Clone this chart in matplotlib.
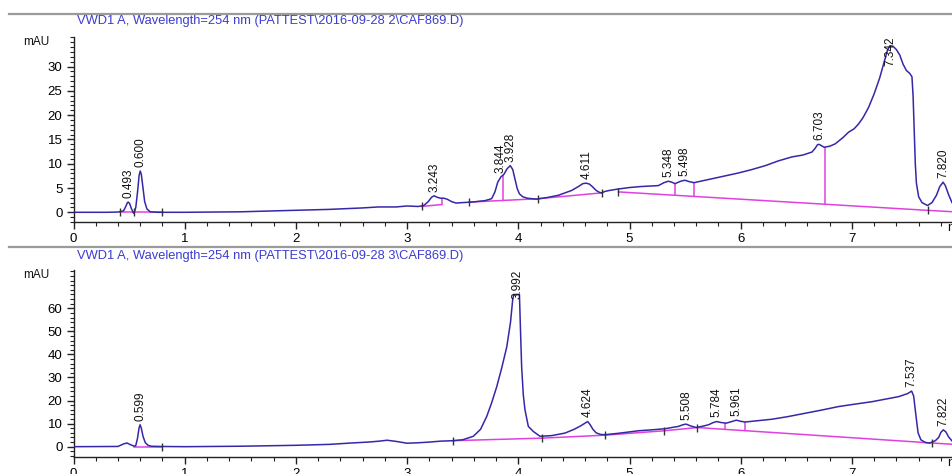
import numpy as np
import matplotlib
matplotlib.use("Agg")
import matplotlib.pyplot as plt
from matplotlib.lines import Line2D
from matplotlib.ticker import FixedLocator, MultipleLocator

plt.rcParams['font.family'] = ['Liberation Sans', 'DejaVu Sans']

TRACE = '#3428a8'
BASE = '#e040e0'
TITLE = '#3c3cd0'

# ---------------- run 2 ----------------
top_title = "VWD1 A, Wavelength=254 nm (PATTEST\\2016-09-28 2\\CAF869.D)"
top_t = [0.00, 0.30, 0.40, 0.45, 0.47, 0.485, 0.493, 0.505, 0.52, 0.54, 0.55, 0.56, 0.575,
         0.59, 0.600, 0.61, 0.625, 0.64, 0.66, 0.69, 0.75, 1.00, 1.50, 2.00, 2.30, 2.60, 2.74,
         2.90, 3.00, 3.10, 3.15, 3.19, 3.22, 3.243, 3.27, 3.30, 3.33, 3.36, 3.40, 3.44, 3.50,
         3.58, 3.70, 3.76, 3.79, 3.815, 3.844, 3.87, 3.90, 3.928, 3.95, 3.97, 3.99, 4.01, 4.04,
         4.08, 4.16, 4.25, 4.36, 4.48, 4.54, 4.58, 4.611, 4.64, 4.67, 4.70, 4.73, 4.75, 4.78,
         4.82, 4.90, 5.00, 5.10, 5.26, 5.31, 5.348, 5.38, 5.41, 5.46, 5.498, 5.54, 5.58, 5.66,
         5.74, 5.86, 5.98, 6.10, 6.22, 6.34, 6.46, 6.56, 6.64, 6.67, 6.69, 6.703, 6.72, 6.75,
         6.80, 6.85, 6.92, 6.97, 7.02, 7.06, 7.10, 7.15, 7.20, 7.25, 7.29, 7.32, 7.342, 7.37,
         7.40, 7.43, 7.46, 7.49, 7.52, 7.54, 7.55, 7.56, 7.57, 7.58, 7.60, 7.63, 7.68, 7.72,
         7.76, 7.79, 7.820, 7.84, 7.87, 7.90, 7.92]
top_v = [0.0, 0.0, 0.05, 0.3, 1.2, 2.0, 2.1, 1.8, 0.8, -0.2, 0.2, 1.0, 4.0,
         7.6, 8.5, 7.8, 5.0, 2.2, 0.7, 0.1, 0.0, 0.0, 0.1, 0.4, 0.6, 0.9, 1.1,
         1.1, 1.3, 1.2, 1.4, 2.2, 3.1, 3.4, 3.1, 2.9, 2.9, 2.7, 2.2, 1.9, 2.0,
         2.1, 2.4, 2.8, 4.2, 6.2, 7.3, 7.8, 9.0, 9.6, 8.8, 6.8, 4.9, 3.8, 3.2,
         2.9, 2.7, 3.0, 3.5, 4.5, 5.3, 5.9, 6.0, 5.8, 5.2, 4.5, 4.1, 4.0, 4.3,
         4.5, 4.8, 5.1, 5.3, 5.5, 6.1, 6.4, 6.2, 5.9, 6.4, 6.6, 6.3, 6.1, 6.5,
         6.9, 7.5, 8.1, 8.8, 9.6, 10.6, 11.4, 11.8, 12.4, 13.2, 13.9, 14.0, 13.8, 13.4,
         13.6, 14.1, 15.4, 16.5, 17.2, 18.2, 19.5, 21.6, 24.4, 27.7, 31.0, 33.4, 34.3, 34.2,
         33.5, 32.4, 30.5, 29.2, 28.6, 27.9, 24.0, 17.0, 10.0, 6.0, 3.2, 2.0, 1.4, 2.0,
         3.5, 5.3, 6.2, 5.5, 3.6, 2.0, 1.4]
top_peaks = [0.493, 0.600, 3.243, 3.844, 3.928, 4.611, 5.348, 5.498, 6.703, 7.342, 7.820]
top_baselines = [([0.42, 0.80], [0.0, 0.0]),
                 ([3.13, 3.31], [1.2, 1.6]),
                 ([3.56, 4.18, 4.75], [2.1, 2.8, 4.0]),
                 ([4.90, 7.68, 7.92], [4.2, 0.4, 0.1])]
top_drops = [3.31, 3.86, 5.41, 5.58, 6.76]
top_marks = [0.42, 0.54, 0.80, 3.13, 3.56, 4.18, 4.75, 4.90, 7.68]

# ---------------- run 3 ----------------
bot_title = "VWD1 A, Wavelength=254 nm (PATTEST\\2016-09-28 3\\CAF869.D)"
bot_t = [0.00, 0.40, 0.45, 0.48, 0.52, 0.55, 0.56, 0.575, 0.59, 0.599, 0.61, 0.625, 0.645,
         0.67, 0.70, 0.78, 1.00, 1.50, 2.00, 2.30, 2.50, 2.65, 2.75, 2.82, 2.90, 3.00, 3.10,
         3.20, 3.30, 3.41, 3.50, 3.595, 3.66, 3.716, 3.76, 3.806, 3.85, 3.896, 3.93, 3.95,
         3.96, 3.992, 4.01, 4.02, 4.03, 4.045, 4.06, 4.09, 4.135, 4.195, 4.30, 4.42, 4.50,
         4.56, 4.60, 4.624, 4.645, 4.67, 4.70, 4.74, 4.78, 4.90, 5.08, 5.20, 5.32, 5.44, 5.48,
         5.508, 5.55, 5.60, 5.66, 5.71, 5.75, 5.784, 5.82, 5.87, 5.92, 5.961, 6.00, 6.04, 6.16,
         6.28, 6.42, 6.58, 6.72, 6.88, 7.02, 7.18, 7.30, 7.42, 7.50, 7.537, 7.555, 7.575,
         7.595, 7.62, 7.66, 7.70, 7.75, 7.78, 7.80, 7.822, 7.845, 7.87, 7.90, 7.92]
bot_v = [0.0, 0.1, 1.2, 1.6, 0.7, 0.2, 0.5, 3.5, 8.2, 9.5, 8.0, 4.5, 1.8,
         0.6, 0.2, 0.1, 0.0, 0.2, 0.6, 1.0, 1.6, 2.0, 2.4, 2.8, 2.3, 1.5, 1.7,
         2.0, 2.4, 2.6, 3.0, 4.5, 7.5, 13.1, 19.0, 26.0, 34.0, 43.2, 54.0, 64.0,
         66.0, 66.0, 66.0, 50.0, 34.6, 22.4, 16.0, 8.8, 6.6, 4.5, 4.8, 5.9, 7.5,
         9.0, 10.2, 10.9, 9.6, 7.6, 6.0, 5.3, 5.2, 5.8, 6.9, 7.3, 7.8, 8.8, 9.5,
         9.8, 9.0, 8.3, 8.9, 9.5, 10.4, 10.9, 10.5, 10.2, 10.9, 11.5, 11.0, 10.7, 11.3,
         11.9, 13.0, 14.5, 15.8, 17.4, 18.4, 19.5, 20.6, 21.7, 23.0, 24.1, 22.0, 13.8,
         6.0, 3.0, 1.8, 1.6, 2.6, 4.0, 6.2, 7.3, 6.4, 4.2, 2.5, 1.6]
bot_peaks = [0.599, 3.992, 4.624, 5.508, 5.784, 5.961, 7.537, 7.822]
bot_baselines = [([0.54, 0.80], [0.0, 0.0]),
                 ([3.41, 4.21, 4.78, 5.31, 5.61, 7.72, 7.92], [2.6, 3.7, 5.0, 6.9, 8.3, 1.6, 1.0])]
bot_drops = [5.86, 6.04]
bot_marks = [0.80, 3.41, 4.21, 4.78, 5.31, 5.61, 7.72]

XMAX = 7.90
FIG_W, FIG_H = 952, 474


def base_at(segments, t):
    for bt, bv in segments:
        if bt[0] - 1e-9 <= t <= bt[-1] + 1e-9:
            return float(np.interp(t, bt, bv))
    return 0.0


def draw_panel(fig, rect, title, title_y, t, v, peaks, baselines, drops, marks,
               ylim, majors, minor_step):
    ax = fig.add_axes(rect)
    ax.set_xlim(0, XMAX)
    ax.set_ylim(*ylim)
    for s in ('top', 'right'):
        ax.spines[s].set_visible(False)
    for s in ('left', 'bottom'):
        ax.spines[s].set_linewidth(1.0)
        ax.spines[s].set_color('#222222')

    ax.xaxis.set_major_locator(FixedLocator(range(0, 8)))
    ax.xaxis.set_minor_locator(MultipleLocator(0.2))
    ax.yaxis.set_major_locator(FixedLocator(majors))
    ax.yaxis.set_minor_locator(MultipleLocator(minor_step))
    ax.tick_params(which='major', length=5, width=1.0, labelsize=9.5, pad=3, color='#222222')
    ax.tick_params(which='minor', length=3, width=0.8, color='#222222')

    # baselines and drop lines
    for bt, bv in baselines:
        ax.plot(bt, bv, color=BASE, lw=1.1, zorder=2)
    lo = [base_at(baselines, d) for d in drops]
    hi = np.interp(drops, t, v)
    ax.vlines(drops, lo, hi, color=BASE, lw=1.1, zorder=2)

    # chromatogram trace
    ax.plot(t, v, color=TRACE, lw=1.1, zorder=3, solid_joinstyle='round')

    # integration markers
    mk_y = [base_at(baselines, m) for m in marks]
    ax.plot(marks, mk_y, ls='none', marker='|', markersize=6, mew=1.0,
            color='#333333', zorder=4)

    # retention time labels
    fig.canvas.draw()
    renderer = fig.canvas.get_renderer()
    top_px = ax.get_window_extent(renderer).y1
    apex = np.interp(peaks, t, v)
    for rt, h in zip(peaks, apex):
        txt = ax.annotate(f"{rt:.3f}", xy=(rt, h), xytext=(0, 3), textcoords='offset points',
                          rotation=90, ha='center', va='bottom', fontsize=8.5, color='#111111',
                          zorder=5)
        bb = txt.get_window_extent(renderer)
        if bb.y1 > top_px:
            txt.remove()
            ax.text(rt, ylim[1], f"{rt:.3f}", rotation=90, ha='center', va='top',
                    fontsize=8.5, color='#111111', zorder=5)

    ax.text(7.86, 0, "min", transform=ax.get_xaxis_transform(),
            ha='left', va='top', fontsize=9.5, color='#111111')
    fig.text(rect[0] - 50 / FIG_W, rect[1] + rect[3] - 5 / FIG_H, "mAU", ha='left',
             va='center', fontsize=8.5, color='#111111')
    fig.text(77 / FIG_W, 1 - title_y / FIG_H, title, ha='left', va='center',
             fontsize=9.3, color=TITLE)
    return ax


fig = plt.figure(figsize=(FIG_W / 100, FIG_H / 100), dpi=100)
fig.patch.set_facecolor('white')

left = 73.5 / FIG_W
width = 1 - left
top_rect = [left, (FIG_H - 222.3) / FIG_H, width, (222.3 - 37) / FIG_H]
bot_rect = [left, (FIG_H - 456.7) / FIG_H, width, (456.7 - 270) / FIG_H]

for y in (13.5, 246.5):
    fig.add_artist(Line2D([9 / FIG_W, 1], [1 - y / FIG_H] * 2, transform=fig.transFigure,
                          color='#9a9a9a', lw=1.6))

draw_panel(fig, top_rect, top_title, 21, top_t, top_v, top_peaks, top_baselines,
           top_drops, top_marks, (-2.06, 36.1), list(range(0, 31, 5)), 1)
draw_panel(fig, bot_rect, bot_title, 256, bot_t, bot_v, bot_peaks, bot_baselines,
           bot_drops, bot_marks, (-4.34, 76.6), list(range(0, 61, 10)), 2)

fig.savefig('out.png', dpi=100)
